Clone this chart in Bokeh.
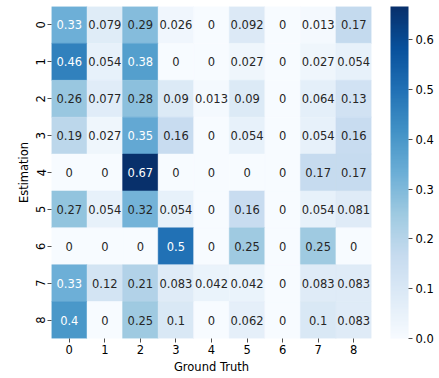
from bokeh.plotting import figure
from bokeh.models import (ColumnDataSource, LinearColorMapper, ColorBar,
                          FixedTicker, PrintfTickFormatter, CategoricalAxis,
                          FactorRange)
from bokeh.transform import transform
from bokeh.palettes import Blues256
from bokeh.core.properties import value
from bokeh.embed import file_html
from bokeh.resources import INLINE

# ---- data -------------------------------------------------------------
ground_truth = ["0", "1", "2", "3", "4", "5", "6", "7", "8"]
estimation = ["0", "1", "2", "3", "4", "5", "6", "7", "8"]
row_0 = [0.33, 0.079, 0.29, 0.026, 0, 0.092, 0, 0.013, 0.17]
row_1 = [0.46, 0.054, 0.38, 0, 0, 0.027, 0, 0.027, 0.054]
row_2 = [0.26, 0.077, 0.28, 0.09, 0.013, 0.09, 0, 0.064, 0.13]
row_3 = [0.19, 0.027, 0.35, 0.16, 0, 0.054, 0, 0.054, 0.16]
row_4 = [0, 0, 0.667, 0, 0, 0, 0, 0.167, 0.167]
row_5 = [0.27, 0.054, 0.32, 0.054, 0, 0.16, 0, 0.054, 0.081]
row_6 = [0, 0, 0, 0.5, 0, 0.25, 0, 0.25, 0]
row_7 = [0.33, 0.12, 0.21, 0.083, 0.042, 0.042, 0, 0.083, 0.083]
row_8 = [0.4, 0, 0.25, 0.1, 0, 0.062, 0, 0.1, 0.083]
rows = [row_0, row_1, row_2, row_3, row_4, row_5, row_6, row_7, row_8]
colorbar_ticks = [0.0, 0.1, 0.2, 0.3, 0.4, 0.5, 0.6]

# ---- build table --------------------------------------------------------
palette = list(reversed(Blues256))
vmin = 0.0
vmax = max(max(r) for r in rows)


def hex_to_lum(h):
    rgb = [int(h[i:i + 2], 16) / 255 for i in (1, 3, 5)]
    lin = [c / 12.92 if c <= 0.03928 else ((c + 0.055) / 1.055) ** 2.4 for c in rgb]
    return 0.2126 * lin[0] + 0.7152 * lin[1] + 0.0722 * lin[2]


xs, ys, vals, labels, tcolors = [], [], [], [], []
for ri, r in enumerate(rows):
    for ci, v in enumerate(r):
        xs.append(ground_truth[ci])
        ys.append(estimation[ri])
        vals.append(v)
        labels.append("{:.2g}".format(v))
        idx = min(255, max(0, int((v - vmin) / (vmax - vmin) * 256)))
        tcolors.append("#262626" if hex_to_lum(palette[idx]) > 0.408 else "#ffffff")

src = ColumnDataSource(dict(x=xs, y=ys, v=vals, label=labels, tc=tcolors))
mapper = LinearColorMapper(palette=palette, low=vmin, high=vmax)

FONT = "DejaVu Sans"
FS = "11.5px"
FRAME_H = 332

p = figure(x_range=ground_truth, y_range=list(reversed(estimation)),
           frame_width=320, frame_height=FRAME_H,
           min_border_left=51, min_border_right=0, min_border_top=6,
           min_border_bottom=0,
           output_backend="svg", toolbar_location=None)
p.outline_line_color = None
p.grid.grid_line_color = None
p.background_fill_color = "white"

p.rect(x="x", y="y", width=1, height=1, source=src,
       fill_color=transform("v", mapper), line_color=transform("v", mapper),
       line_width=0.5)
p.text(x="x", y="y", text="label", source=src, text_color="tc",
       text_align="center", text_baseline="middle",
       text_font=value(FONT), text_font_size=FS)

for ax in (p.xaxis[0], p.yaxis[0]):
    ax.axis_line_color = None
    ax.major_tick_in = 0
    ax.major_tick_out = 4
    ax.major_tick_line_color = "#222222"
    ax.major_tick_line_width = 0.8
    ax.major_label_text_font = FONT
    ax.major_label_text_font_size = FS
    ax.major_label_text_color = "#000000"
    ax.axis_label_text_font = FONT
    ax.axis_label_text_font_size = FS
    ax.axis_label_text_font_style = "normal"
    ax.axis_label_text_color = "#000000"
    ax.major_label_standoff = 2

p.xaxis.axis_label = "Ground Truth"
p.yaxis.axis_label = "Estimation"
p.xaxis.axis_label_standoff = 3
p.yaxis.axis_label_standoff = 3
p.yaxis.major_label_orientation = "vertical"

# invisible spacer between heatmap and colour bar
p.extra_y_ranges = {"gap": FactorRange(factors=["a"])}
gap_axis = CategoricalAxis(y_range_name="gap", major_label_overrides={"a": ""},
                           major_tick_out=19, major_tick_in=0,
                           axis_line_color=None, major_tick_line_color=None,
                           major_label_standoff=0,
                           major_label_text_font_size="0px")
p.add_layout(gap_axis, "right")

cb = ColorBar(color_mapper=mapper, width=18, height=FRAME_H,
              ticker=FixedTicker(ticks=colorbar_ticks),
              formatter=PrintfTickFormatter(format="%.1f"),
              major_tick_in=0, major_tick_out=4,
              major_tick_line_color="#222222", major_tick_line_width=0.8,
              major_label_text_font=FONT, major_label_text_font_size=FS,
              major_label_text_color="#000000",
              label_standoff=3, bar_line_color=None,
              padding=0, margin=0, background_fill_color=None,
              border_line_color=None)
p.add_layout(cb, "right")

open("out.html", "w").write(file_html(p, INLINE))
